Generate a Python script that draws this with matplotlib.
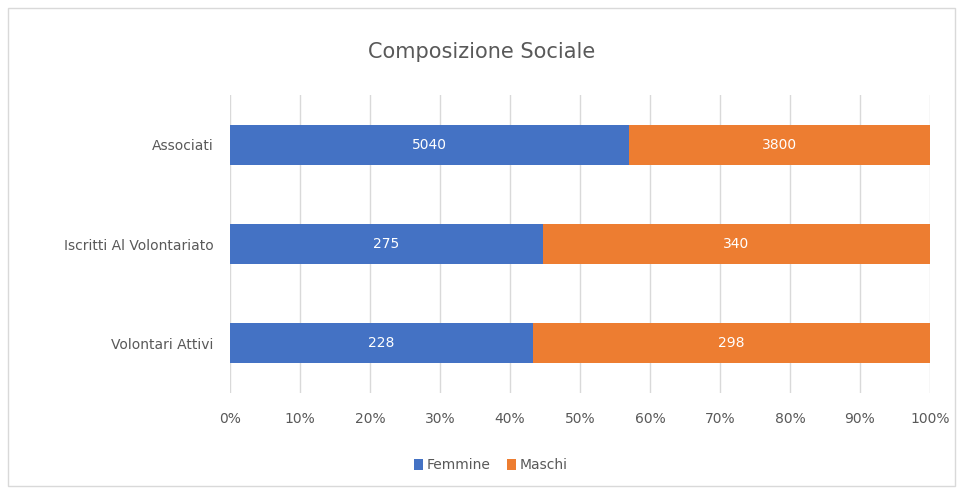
import matplotlib.pyplot as plt
from matplotlib.patches import Rectangle

categorie = ['Associati', 'Iscritti Al Volontariato', 'Volontari Attivi']
femmine = [5040, 275, 228]
maschi = [3800, 340, 298]

tot = [f + m for f, m in zip(femmine, maschi)]
perc_f = [f / t for f, t in zip(femmine, tot)]
perc_m = [m / t for m, t in zip(maschi, tot)]

grigio = '#595959'
blu = '#4472C4'
arancio = '#ED7D31'

fig = plt.figure(figsize=(9.63, 4.94), dpi=100)
fig.patches.append(Rectangle((0.008, 0.016), 0.984, 0.968, transform=fig.transFigure,
                             fill=False, edgecolor='#D9D9D9', linewidth=1))
ax = fig.add_axes([0.2388, 0.2045, 0.7269, 0.603])

y = list(range(len(categorie)))
ax.barh(y, perc_f, height=0.4, color=blu, label='Femmine', zorder=3)
ax.barh(y, perc_m, left=perc_f, height=0.4, color=arancio, label='Maschi', zorder=3)

for i in y:
    ax.text(perc_f[i] / 2, i, str(femmine[i]), ha='center', va='center', color='white', fontsize=10)
    ax.text(perc_f[i] + perc_m[i] / 2, i, str(maschi[i]), ha='center', va='center', color='white', fontsize=10)

ax.set_xlim(0, 1)
ax.set_ylim(len(categorie) - 0.5, -0.5)
ax.set_yticks(y)
ax.set_yticklabels(categorie, color=grigio, fontsize=10)
ax.set_xticks([i / 10 for i in range(11)])
ax.set_xticklabels([f'{i * 10}%' for i in range(11)], color=grigio, fontsize=10)
ax.grid(axis='x', color='#D9D9D9', linewidth=1, zorder=0)
ax.tick_params(length=0, pad=12)
ax.tick_params(axis='x', pad=14)
for s in ax.spines.values():
    s.set_visible(False)

fig.text(0.5, 0.895, 'Composizione Sociale', ha='center', va='center', fontsize=15, color=grigio)
fig.legend(loc='center', bbox_to_anchor=(0.51, 0.058), ncol=2, frameon=False, fontsize=10,
           handlelength=0.6, handleheight=0.9, handletextpad=0.3, columnspacing=1.2,
           labelcolor=grigio)

fig.savefig('out.png', dpi=100)
